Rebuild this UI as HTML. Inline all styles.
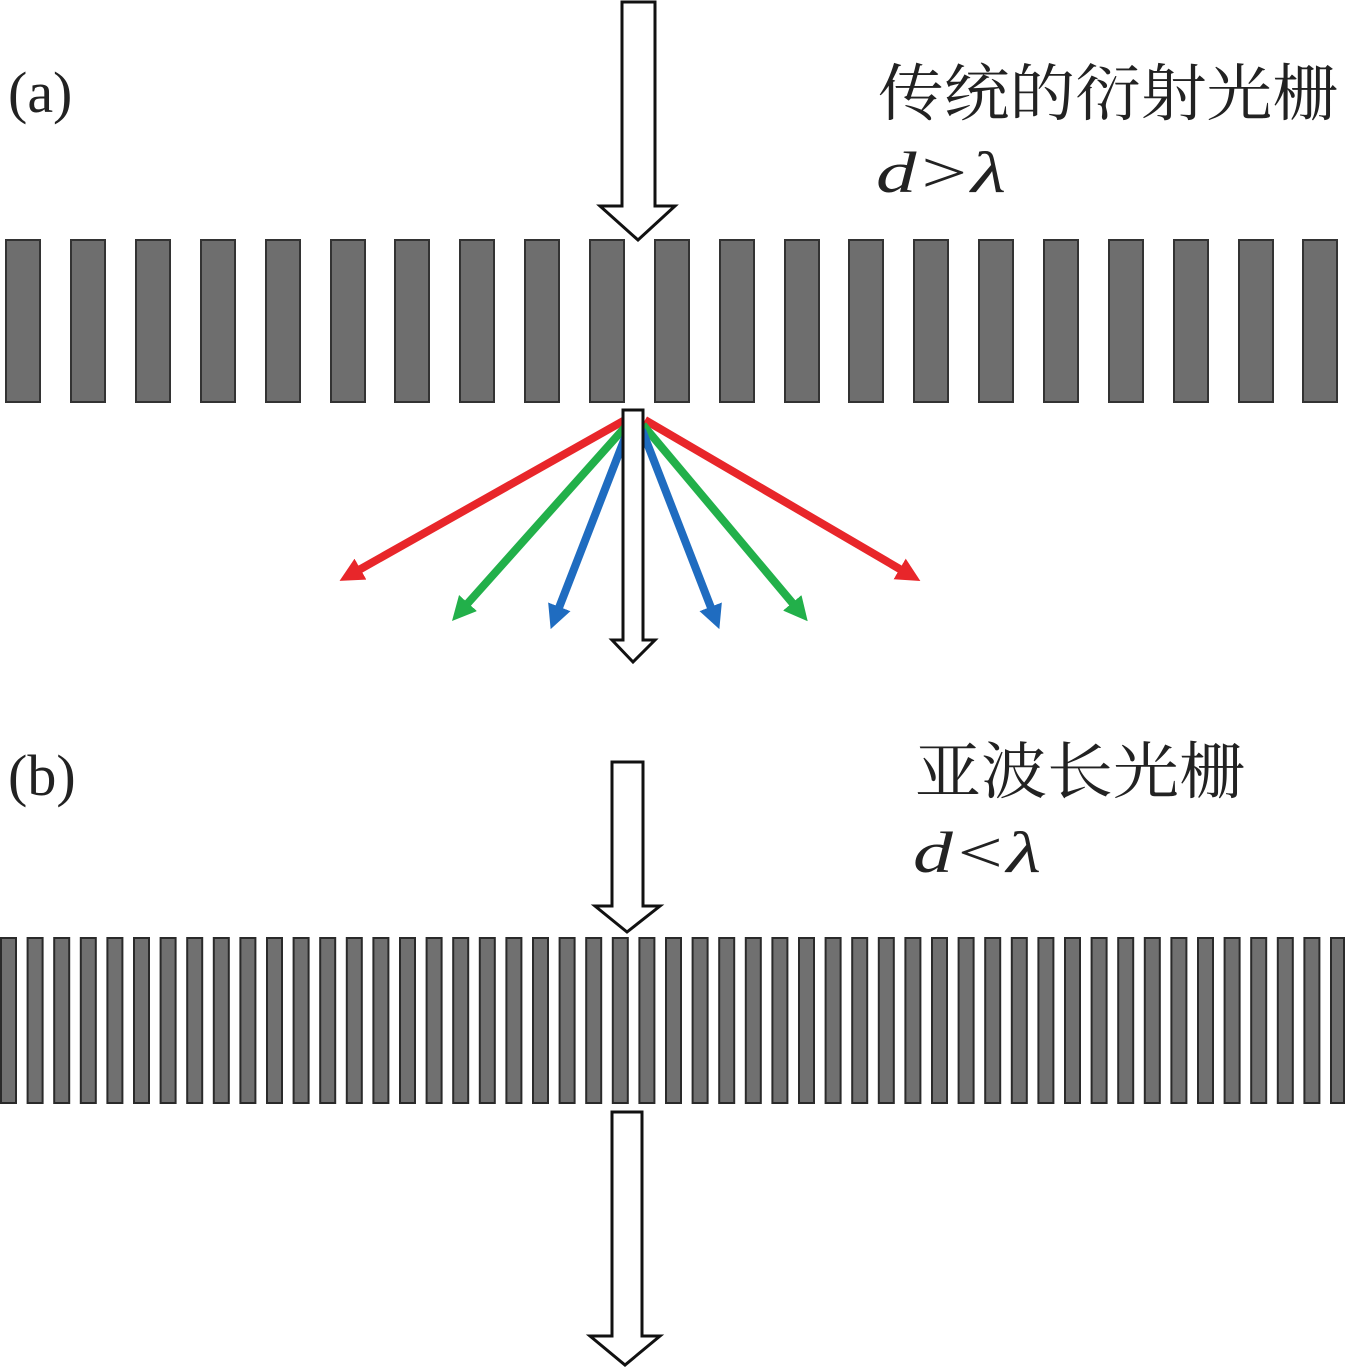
<!DOCTYPE html>
<html><head><meta charset="utf-8"><style>
body{margin:0;background:#fff;}
svg{display:block}
.t{font-family:"Liberation Serif","Noto Serif CJK SC",serif;fill:#222}
.i{font-family:"Liberation Serif",serif;font-style:italic;fill:#222}
</style></head><body>
<svg width="1345" height="1369" viewBox="0 0 1345 1369">
<defs>
<marker id="ar" markerWidth="3" markerHeight="3" refX="1.5" refY="1.5" orient="auto" markerUnits="strokeWidth"><path d="M0,0 L3,1.5 L0,3 Z" fill="context-stroke"/></marker>
</defs>
<g fill="#6e6e6e" stroke="#333" stroke-width="2">
<rect x="6" y="240" width="34" height="162"/><rect x="71" y="240" width="34" height="162"/><rect x="136" y="240" width="34" height="162"/><rect x="201" y="240" width="34" height="162"/><rect x="266" y="240" width="34" height="162"/><rect x="331" y="240" width="34" height="162"/><rect x="395" y="240" width="34" height="162"/><rect x="460" y="240" width="34" height="162"/><rect x="525" y="240" width="34" height="162"/><rect x="590" y="240" width="34" height="162"/><rect x="655" y="240" width="34" height="162"/><rect x="720" y="240" width="34" height="162"/><rect x="785" y="240" width="34" height="162"/><rect x="849" y="240" width="34" height="162"/><rect x="914" y="240" width="34" height="162"/><rect x="979" y="240" width="34" height="162"/><rect x="1044" y="240" width="34" height="162"/><rect x="1109" y="240" width="34" height="162"/><rect x="1174" y="240" width="34" height="162"/><rect x="1239" y="240" width="34" height="162"/><rect x="1303" y="240" width="34" height="162"/>
</g>
<g fill="#707070" stroke="#2a2a2a" stroke-width="2">
<rect x="1" y="938" width="15" height="165"/><rect x="27.6" y="938" width="15" height="165"/><rect x="54.2" y="938" width="15" height="165"/><rect x="80.8" y="938" width="15" height="165"/><rect x="107.4" y="938" width="15" height="165"/><rect x="134" y="938" width="15" height="165"/><rect x="160.6" y="938" width="15" height="165"/><rect x="187.2" y="938" width="15" height="165"/><rect x="213.8" y="938" width="15" height="165"/><rect x="240.4" y="938" width="15" height="165"/><rect x="267" y="938" width="15" height="165"/><rect x="293.6" y="938" width="15" height="165"/><rect x="320.2" y="938" width="15" height="165"/><rect x="346.8" y="938" width="15" height="165"/><rect x="373.4" y="938" width="15" height="165"/><rect x="400" y="938" width="15" height="165"/><rect x="426.6" y="938" width="15" height="165"/><rect x="453.2" y="938" width="15" height="165"/><rect x="479.8" y="938" width="15" height="165"/><rect x="506.4" y="938" width="15" height="165"/><rect x="533" y="938" width="15" height="165"/><rect x="559.6" y="938" width="15" height="165"/><rect x="586.2" y="938" width="15" height="165"/><rect x="612.8" y="938" width="15" height="165"/><rect x="639.4" y="938" width="15" height="165"/><rect x="666" y="938" width="15" height="165"/><rect x="692.6" y="938" width="15" height="165"/><rect x="719.2" y="938" width="15" height="165"/><rect x="745.8" y="938" width="15" height="165"/><rect x="772.4" y="938" width="15" height="165"/><rect x="799" y="938" width="15" height="165"/><rect x="825.6" y="938" width="15" height="165"/><rect x="852.2" y="938" width="15" height="165"/><rect x="878.8" y="938" width="15" height="165"/><rect x="905.4" y="938" width="15" height="165"/><rect x="932" y="938" width="15" height="165"/><rect x="958.6" y="938" width="15" height="165"/><rect x="985.2" y="938" width="15" height="165"/><rect x="1011.8" y="938" width="15" height="165"/><rect x="1038.4" y="938" width="15" height="165"/><rect x="1065" y="938" width="15" height="165"/><rect x="1091.6" y="938" width="15" height="165"/><rect x="1118.2" y="938" width="15" height="165"/><rect x="1144.8" y="938" width="15" height="165"/><rect x="1171.4" y="938" width="15" height="165"/><rect x="1198" y="938" width="15" height="165"/><rect x="1224.6" y="938" width="15" height="165"/><rect x="1251.2" y="938" width="15" height="165"/><rect x="1277.8" y="938" width="15" height="165"/><rect x="1304.4" y="938" width="15" height="165"/><rect x="1331" y="938" width="13" height="165"/>
</g>
<g stroke-width="8" fill="none" stroke-linecap="butt">
<line x1="625" y1="420" x2="350" y2="575" stroke="#e8262a" marker-end="url(#ar)"/>
<line x1="645" y1="420" x2="910" y2="575" stroke="#e8262a" marker-end="url(#ar)"/>
<line x1="627" y1="425" x2="460" y2="612" stroke="#22b04a" marker-end="url(#ar)"/>
<line x1="643" y1="425" x2="800" y2="612" stroke="#22b04a" marker-end="url(#ar)"/>
<line x1="628" y1="430" x2="555" y2="618" stroke="#1f6cc0" marker-end="url(#ar)"/>
<line x1="642" y1="430" x2="715" y2="618" stroke="#1f6cc0" marker-end="url(#ar)"/>
</g>
<g fill="#fff" stroke="#111" stroke-width="3" stroke-linejoin="miter">
<path d="M622,2 H655 V206 H675 L638,240 L600,206 H622 Z"/>
<path d="M623,410 H643 V640 H655 L633,662 L612,640 H623 Z"/>
<path d="M612,762 H643 V906 H660 L627,932 L595,906 H612 Z"/>
<path d="M612,1112 H642 V1336 H660 L625,1365 L590,1336 H612 Z"/>
</g>
<text class="t" x="8" y="112" font-size="58">(a)</text>
<text class="t" x="8" y="795" font-size="58">(b)</text>
<text class="t" x="878" y="115" font-size="62" textLength="460" lengthAdjust="spacingAndGlyphs">传统的衍射光栅</text>
<text class="i" x="876" y="192" font-size="58" textLength="130" lengthAdjust="spacingAndGlyphs">d&gt;λ</text>
<text class="t" x="915" y="793" font-size="62" textLength="330" lengthAdjust="spacingAndGlyphs">亚波长光栅</text>
<text class="i" x="913" y="872" font-size="58" textLength="128" lengthAdjust="spacingAndGlyphs">d&lt;λ</text>
</svg>
</body></html>
